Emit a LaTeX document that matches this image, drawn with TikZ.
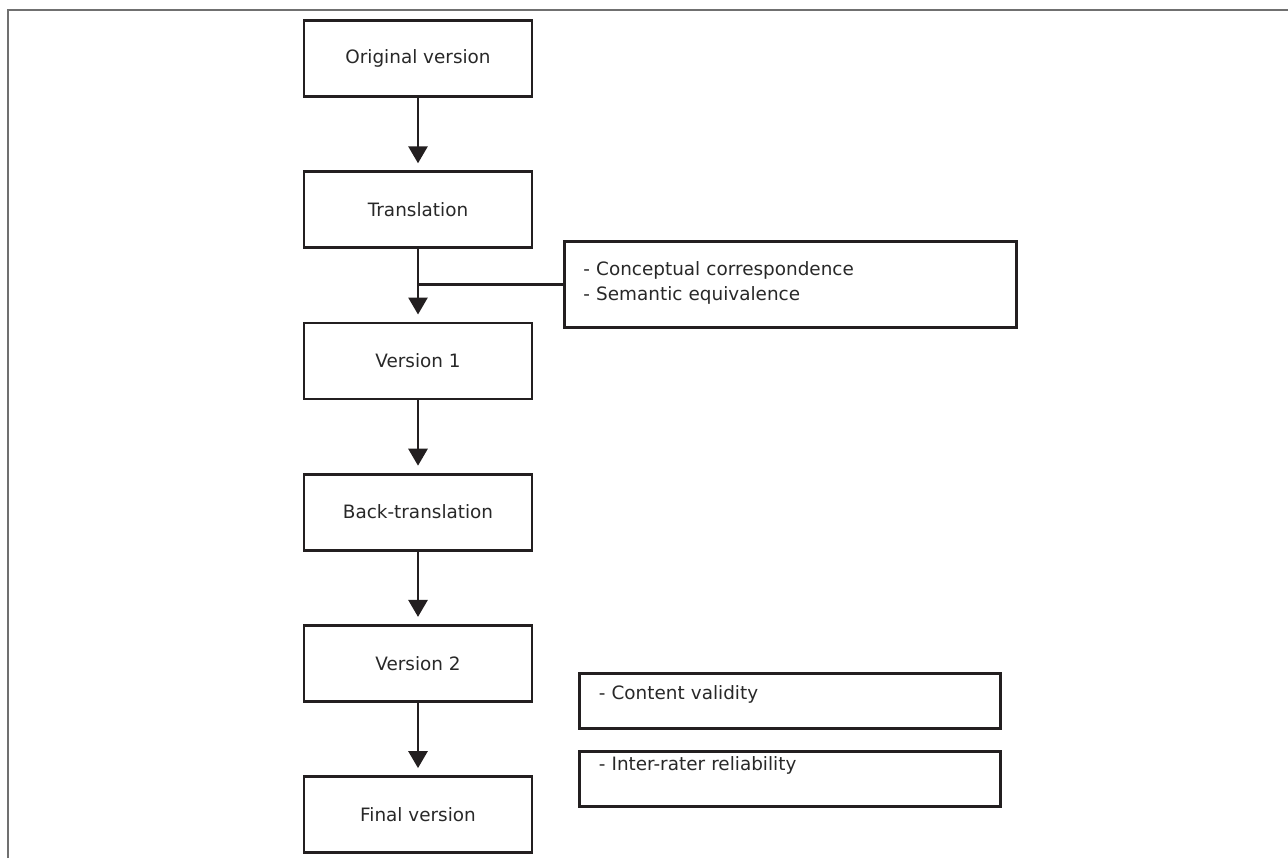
\documentclass[tikz,border=0pt]{standalone}
\usepackage{fontspec}
\setmainfont{DejaVu Sans}
\usetikzlibrary{arrows.meta,positioning}
\definecolor{boxline}{RGB}{35,31,32}
\definecolor{framegray}{RGB}{112,112,112}
\definecolor{textgray}{RGB}{40,40,40}

\begin{document}
\begin{tikzpicture}[
      node distance=36.2pt,
      every node/.style={font=\fontsize{9.2}{12.5}\selectfont, text=textgray},
      stage/.style={rectangle, draw=boxline, line width=1.4pt,
                    minimum width=114pt, minimum height=38pt, align=center},
      note/.style={rectangle, draw=boxline, line width=1.4pt,
                   inner xsep=9.5pt, inner ysep=0pt, align=left},
      arr/.style={-{Triangle[width=9.5pt,length=8.5pt]}, boxline,
                  line width=1.4pt, shorten >=3.5pt},
      link/.style={boxline, line width=1.4pt},
    ]
    % Page frame
    \useasboundingbox (0,0) rectangle (644pt,-429pt);
    \draw[framegray, line width=1pt] (4pt,-429pt) -- (4pt,-5pt) -- (644pt,-5pt);

    % Main chain
    \node[stage] (orig) at (209pt,-29.25pt) {Original version};
    \node[stage, below=of orig]  (trans) {Translation};
    \node[stage, below=of trans] (ver1)  {Version 1};
    \node[stage, below=of ver1]  (back)  {Back-translation};
    \node[stage, below=of back]  (ver2)  {Version 2};
    \node[stage, below=of ver2]  (final) {Final version};

    % Side notes
    \coordinate[below=17.5pt of trans.south] (split);
    \node[note, text width=207pt, text height=17pt, text depth=26pt,
          right=72.5pt of split] (concept)
          {- Conceptual correspondence\\- Semantic equivalence};
    \node[note, text width=191.5pt, text height=13pt, text depth=14.5pt,
          right=22.5pt of ver2.east, yshift=-19pt] (content) {- Content validity};
    \node[note, text width=191.5pt, text height=9.5pt, text depth=18pt,
          below=10pt of content] (rater) {- Inter-rater reliability};

    % Arrows
    \draw[arr] (orig.south)  -- (trans.north);
    \draw[arr] (trans.south) -- (ver1.north);
    \draw[arr] (ver1.south)  -- (back.north);
    \draw[arr] (back.south)  -- (ver2.north);
    \draw[arr] (ver2.south)  -- (final.north);

    % Link to note
    \draw[link] (split) -- (concept.west);
  \end{tikzpicture}
\end{document}
